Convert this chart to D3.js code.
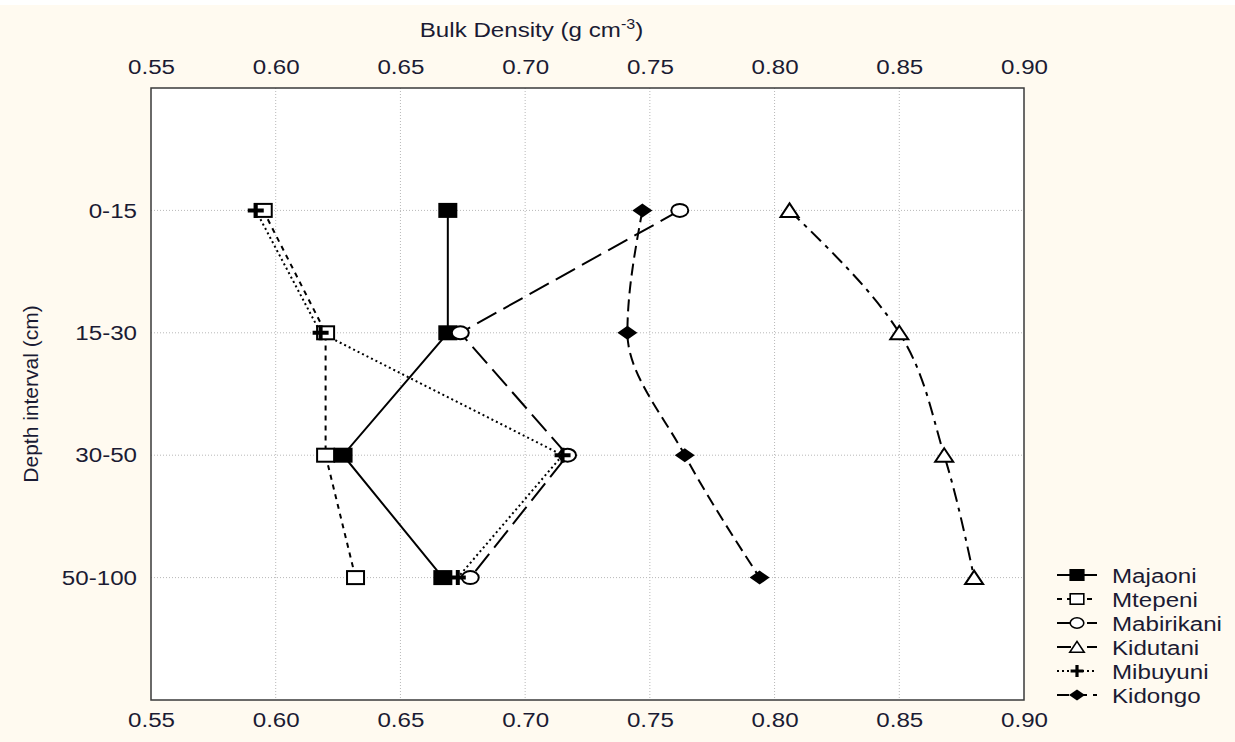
<!DOCTYPE html>
<html><head><meta charset="utf-8">
<script src="https://cdn.jsdelivr.net/npm/d3@7"></script>
<style>body{margin:0;background:#fffaf0;} svg{display:block;font-family:"Liberation Sans",Arial,sans-serif;}</style>
</head><body>
<svg id="c" width="1235" height="742"></svg>
<script>
const depths = ["0-15", "15-30", "30-50", "50-100"];
const xTicks = [0.55, 0.60, 0.65, 0.70, 0.75, 0.80, 0.85, 0.90];
const majaoni    = [0.669, 0.669, 0.627, 0.667];
const mtepeni    = [0.595, 0.620, 0.620, 0.632];
const mabirikani = [0.762, 0.674, 0.717, 0.678];
const kidutani   = [0.806, 0.850, 0.868, 0.880];
const mibuyuni   = [0.592, 0.618, 0.715, 0.673];
const kidongo    = [0.747, 0.741, 0.764, 0.794];
const seriesNames = ["Majaoni", "Mtepeni", "Mabirikani", "Kidutani", "Mibuyuni", "Kidongo"];

const seriesVals = [majaoni, mtepeni, mabirikani, kidutani, mibuyuni, kidongo];
const styles = [
  {dash:null, marker:"fsquare", curve:d3.curveLinear},
  {dash:"5,5", marker:"osquare", curve:d3.curveLinear},
  {dash:"22,8", marker:"circle", curve:d3.curveLinear},
  {dash:"14,6,4,6", marker:"triangle", curve:d3.curveMonotoneY},
  {dash:"2,3", marker:"plus", curve:d3.curveLinear},
  {dash:"12,6", marker:"diamond", curve:d3.curveMonotoneY}
];

const FS = 21, SX = 1.15, TXT = "#1b1b33";
const svg = d3.select("#c");
const W = 1235, H = 742;
svg.append("rect").attr("width",W).attr("height",H).attr("fill","#fffaf0");
svg.append("rect").attr("width",W).attr("height",5).attr("fill","#ffffff");

const L = 151, R = 1024, T = 88, B = 700;
const x = d3.scaleLinear().domain([0.55, 0.90]).range([L, R]);
const y = d3.scalePoint().domain(["", ...depths, " "]).range([T, B]);

svg.append("rect").attr("x",L).attr("y",T).attr("width",R-L).attr("height",B-T).attr("fill","#ffffff");

// grid
const g = svg.append("g");
g.selectAll("line.vx").data(xTicks.slice(1,-1)).join("line")
  .attr("x1",d=>x(d)).attr("x2",d=>x(d)).attr("y1",T).attr("y2",B)
  .attr("stroke","#b8b8b8").attr("stroke-width",1).attr("stroke-dasharray","1,2");
g.selectAll("line.hy").data(depths).join("line")
  .attr("x1",L).attr("x2",R).attr("y1",d=>y(d)).attr("y2",d=>y(d))
  .attr("stroke","#b8b8b8").attr("stroke-width",1).attr("stroke-dasharray","1,2");

// axes
const fmt = d3.format(".2f");
const axTop = svg.append("g").attr("transform",`translate(0,${T})`)
  .call(d3.axisTop(x).tickValues(xTicks).tickFormat(fmt).tickSize(0).tickPadding(14));
const axBot = svg.append("g").attr("transform",`translate(0,${B})`)
  .call(d3.axisBottom(x).tickValues(xTicks).tickFormat(fmt).tickSize(0).tickPadding(12));
const axLeft = svg.append("g").attr("transform",`translate(${L},0)`)
  .call(d3.axisLeft(y).tickValues(depths).tickSize(0).tickPadding(14));
[axTop, axBot, axLeft].forEach(a=>{
  a.select(".domain").remove();
  a.attr("font-size",FS).attr("font-family","\"Liberation Sans\",Arial,sans-serif");
  a.selectAll("text").attr("fill",TXT).each(function(){
    const t = d3.select(this);
    const tx = +t.attr("x") || 0, ty = +t.attr("y") || 0;
    t.attr("x",0).attr("y",0).attr("transform",`translate(${tx},${ty}) scale(${SX},1)`);
  });
});

// frame
svg.append("rect").attr("x",L).attr("y",T).attr("width",R-L).attr("height",B-T)
  .attr("fill","none").attr("stroke","#3a3a3a").attr("stroke-width",1.5);

// titles
const tt = svg.append("text").attr("transform",`translate(${(L+R)/2 - 56},37) scale(${SX},1)`)
  .attr("text-anchor","middle").attr("font-size",FS).attr("fill",TXT);
tt.append("tspan").text("Bulk Density (g cm");
tt.append("tspan").attr("dy",-8).attr("font-size",14).text("-3");
tt.append("tspan").attr("dy",8).text(")");
svg.append("text").attr("transform",`translate(38,394) rotate(-90)`)
  .attr("text-anchor","middle").attr("font-size",FS).attr("fill",TXT).text("Depth interval (cm)");

function drawMarker(sel, type, cx, cy, k){
  const s = sel.append("g").attr("transform",`translate(${cx},${cy}) scale(${k})`);
  if(type==="fsquare") s.append("rect").attr("x",-9.5).attr("y",-7.5).attr("width",19).attr("height",15).attr("fill","#000");
  if(type==="osquare") s.append("rect").attr("x",-8.5).attr("y",-6.5).attr("width",17).attr("height",13).attr("fill","#fff").attr("stroke","#000").attr("stroke-width",2);
  if(type==="circle") s.append("ellipse").attr("rx",8.5).attr("ry",6.5).attr("fill","#fff").attr("stroke","#000").attr("stroke-width",2);
  if(type==="triangle") s.append("path").attr("d","M0,-7L9,6.5L-9,6.5Z").attr("fill","#fff").attr("stroke","#000").attr("stroke-width",2);
  if(type==="plus") s.append("path").attr("d","M-8,0H8M0,-7.5V7.5").attr("stroke","#000").attr("stroke-width",4);
  if(type==="diamond") s.append("path").attr("d","M0,-7L10,0L0,7L-10,0Z").attr("fill","#000");
}

// lines
seriesVals.forEach((vals,i)=>{
  const pts = vals.map((v,j)=>[x(v), y(depths[j])]);
  svg.append("path").attr("d", d3.line().curve(styles[i].curve)(pts))
    .attr("fill","none").attr("stroke","#000").attr("stroke-width",2)
    .attr("stroke-dasharray",styles[i].dash);
});
seriesVals.forEach((vals,i)=>{
  vals.forEach((v,j)=>drawMarker(svg, styles[i].marker, x(v), y(depths[j]), 1));
});

// legend
const lg = svg.append("g");
seriesNames.forEach((n,i)=>{
  const ly = 575 + i*24;
  lg.append("line").attr("x1",1057).attr("x2",1097).attr("y1",ly).attr("y2",ly)
    .attr("stroke","#000").attr("stroke-width",2).attr("stroke-dasharray",styles[i].dash);
  drawMarker(lg, styles[i].marker, 1077, ly, 0.8);
  lg.append("text").attr("transform",`translate(1112,${ly+7.5}) scale(${SX},1)`)
    .attr("font-size",FS).attr("fill",TXT).text(n);
});
</script>
</body></html>
